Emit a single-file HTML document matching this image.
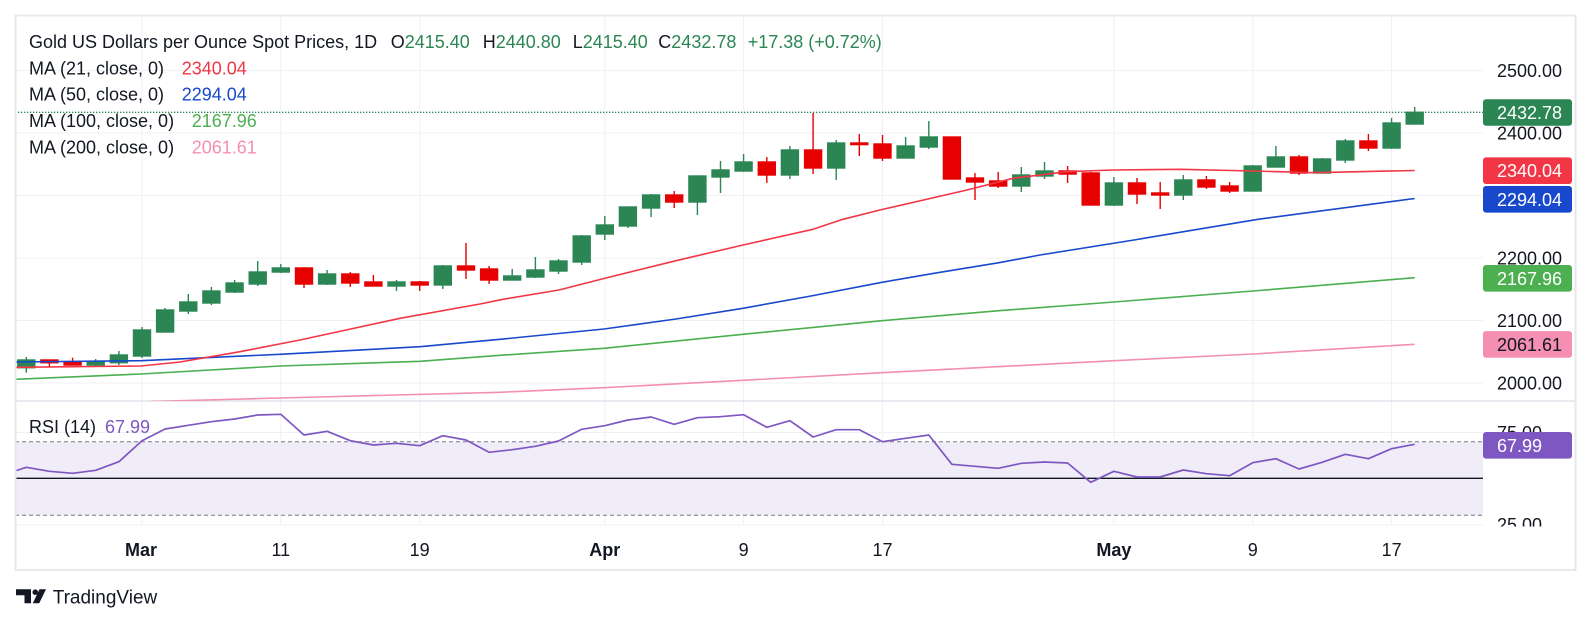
<!DOCTYPE html>
<html><head><meta charset="utf-8"><style>
html,body{margin:0;padding:0;background:#fff;}
svg{display:block;font-family:"Liberation Sans",Arial,sans-serif;}
</style></head><body>
<svg width="1592" height="625" viewBox="0 0 1592 625" xmlns="http://www.w3.org/2000/svg">
<defs>
<clipPath id="mainclip"><rect x="15" y="15" width="1468" height="386"/></clipPath>
<clipPath id="rsiclip"><rect x="15" y="402" width="1561" height="124.5"/></clipPath>
</defs>
<rect width="1592" height="625" fill="#fff"/>
<!-- grid -->
<g stroke="#f0f1f4" stroke-width="1">
<line x1="15" y1="70.5" x2="1483" y2="70.5"/>
<line x1="15" y1="133" x2="1483" y2="133"/>
<line x1="15" y1="195.5" x2="1483" y2="195.5"/>
<line x1="15" y1="258" x2="1483" y2="258"/>
<line x1="15" y1="320.5" x2="1483" y2="320.5"/>
<line x1="15" y1="383" x2="1483" y2="383"/>
<line x1="15" y1="432.5" x2="1483" y2="432.5"/>
<line x1="15" y1="525" x2="1483" y2="525"/>
<line x1="142" y1="15" x2="142" y2="526"/>
<line x1="280.8" y1="15" x2="280.8" y2="526"/>
<line x1="419.7" y1="15" x2="419.7" y2="526"/>
<line x1="604.8" y1="15" x2="604.8" y2="526"/>
<line x1="743.6" y1="15" x2="743.6" y2="526"/>
<line x1="882.5" y1="15" x2="882.5" y2="526"/>
<line x1="1113.9" y1="15" x2="1113.9" y2="526"/>
<line x1="1252.7" y1="15" x2="1252.7" y2="526"/>
<line x1="1391.6" y1="15" x2="1391.6" y2="526"/>
</g>
<!-- RSI band -->
<rect x="15" y="441.7" width="1468" height="73.6" fill="#f0ecf8"/>
<g stroke="#787b86" stroke-width="1" stroke-dasharray="4 3">
<line x1="15" y1="441.7" x2="1483" y2="441.7"/>
<line x1="15" y1="515.3" x2="1483" y2="515.3"/>
</g>
<line x1="15" y1="478.3" x2="1483" y2="478.3" stroke="#131722" stroke-width="1.4"/>
<!-- pane separator -->
<line x1="15" y1="401" x2="1576" y2="401" stroke="#e0e3eb" stroke-width="1.5"/>
<!-- current price dotted line -->
<line x1="15" y1="112.3" x2="1483" y2="112.3" stroke="#2b8654" stroke-width="1.3" stroke-dasharray="1.3 1.7"/>

<!-- candles green -->
<g clip-path="url(#mainclip)">
<g stroke="#2b8654" stroke-width="1.4" fill="#2b8654">
<line x1="26.3" y1="357" x2="26.3" y2="372.7"/><rect x="17.8" y="360" width="17" height="7.7"/>
<line x1="95.7" y1="359" x2="95.7" y2="367"/><rect x="87.2" y="362" width="17" height="3"/>
<line x1="118.9" y1="351" x2="118.9" y2="365"/><rect x="110.4" y="355" width="17" height="7.7"/>
<line x1="142" y1="327" x2="142" y2="358"/><rect x="133.5" y="330" width="17" height="26"/>
<line x1="165.1" y1="308" x2="165.1" y2="332.7"/><rect x="156.6" y="310" width="17" height="22"/>
<line x1="188.3" y1="294" x2="188.3" y2="314"/><rect x="179.8" y="302" width="17" height="9"/>
<line x1="211.4" y1="287" x2="211.4" y2="305"/><rect x="202.9" y="291" width="17" height="12"/>
<line x1="234.6" y1="280" x2="234.6" y2="293"/><rect x="226.1" y="283" width="17" height="9"/>
<line x1="257.7" y1="261" x2="257.7" y2="286"/><rect x="249.2" y="272" width="17" height="12"/>
<line x1="280.8" y1="264" x2="280.8" y2="273"/><rect x="272.3" y="268" width="17" height="4"/>
<line x1="327.1" y1="270" x2="327.1" y2="285"/><rect x="318.6" y="274" width="17" height="10"/>
<line x1="396.5" y1="280" x2="396.5" y2="291"/><rect x="388" y="282" width="17" height="4"/>
<line x1="442.8" y1="265" x2="442.8" y2="289"/><rect x="434.3" y="266" width="17" height="19"/>
<line x1="512.2" y1="269" x2="512.2" y2="280"/><rect x="503.7" y="276" width="17" height="4"/>
<line x1="535.4" y1="257" x2="535.4" y2="278"/><rect x="526.9" y="270" width="17" height="7"/>
<line x1="558.5" y1="259" x2="558.5" y2="274"/><rect x="550" y="261" width="17" height="10"/>
<line x1="581.7" y1="235" x2="581.7" y2="265"/><rect x="573.2" y="236" width="17" height="26"/>
<line x1="604.8" y1="216" x2="604.8" y2="240"/><rect x="596.3" y="225" width="17" height="9"/>
<line x1="627.9" y1="207" x2="627.9" y2="228"/><rect x="619.4" y="207" width="17" height="19"/>
<line x1="651.1" y1="194" x2="651.1" y2="217"/><rect x="642.6" y="195" width="17" height="13"/>
<line x1="697.4" y1="176" x2="697.4" y2="215"/><rect x="688.9" y="176" width="17" height="26"/>
<line x1="720.5" y1="161" x2="720.5" y2="193"/><rect x="712" y="170" width="17" height="7"/>
<line x1="743.6" y1="154" x2="743.6" y2="172"/><rect x="735.1" y="162" width="17" height="9"/>
<line x1="789.9" y1="146" x2="789.9" y2="179"/><rect x="781.4" y="150" width="17" height="25"/>
<line x1="836.2" y1="140" x2="836.2" y2="180"/><rect x="827.7" y="143" width="17" height="25"/>
<line x1="905.6" y1="137" x2="905.6" y2="158"/><rect x="897.1" y="146" width="17" height="12"/>
<line x1="928.8" y1="121" x2="928.8" y2="149"/><rect x="920.3" y="137" width="17" height="10"/>
<line x1="1021.3" y1="167" x2="1021.3" y2="192"/><rect x="1012.8" y="175" width="17" height="11"/>
<line x1="1044.5" y1="162" x2="1044.5" y2="179"/><rect x="1036" y="171" width="17" height="5"/>
<line x1="1113.9" y1="177" x2="1113.9" y2="206"/><rect x="1105.4" y="183" width="17" height="22"/>
<line x1="1183.3" y1="175" x2="1183.3" y2="200"/><rect x="1174.8" y="180" width="17" height="15"/>
<line x1="1252.7" y1="165" x2="1252.7" y2="191"/><rect x="1244.2" y="166" width="17" height="25"/>
<line x1="1275.9" y1="146" x2="1275.9" y2="167"/><rect x="1267.4" y="157" width="17" height="10"/>
<line x1="1322.1" y1="158" x2="1322.1" y2="173"/><rect x="1313.6" y="159" width="17" height="14"/>
<line x1="1345.3" y1="139" x2="1345.3" y2="163"/><rect x="1336.8" y="141" width="17" height="19"/>
<line x1="1391.6" y1="118" x2="1391.6" y2="149"/><rect x="1383.1" y="123" width="17" height="25"/>
<line x1="1414.7" y1="107" x2="1414.7" y2="124"/><rect x="1406.2" y="112.3" width="17" height="11.7"/>
</g>
<!-- candles red -->
<g stroke="#e60000" stroke-width="1.4" fill="#e60000">
<line x1="49.4" y1="360" x2="49.4" y2="367"/><rect x="40.9" y="360" width="17" height="2.7"/>
<line x1="72.6" y1="357.7" x2="72.6" y2="365"/><rect x="64.1" y="362" width="17" height="3"/>
<line x1="304" y1="267" x2="304" y2="288"/><rect x="295.5" y="268" width="17" height="16"/>
<line x1="350.3" y1="272" x2="350.3" y2="287"/><rect x="341.8" y="274" width="17" height="9"/>
<line x1="373.4" y1="275" x2="373.4" y2="286"/><rect x="364.9" y="282" width="17" height="4"/>
<line x1="419.7" y1="281" x2="419.7" y2="291"/><rect x="411.2" y="282" width="17" height="3"/>
<line x1="466" y1="243" x2="466" y2="279"/><rect x="457.5" y="266" width="17" height="4"/>
<line x1="489.1" y1="266" x2="489.1" y2="284"/><rect x="480.6" y="269" width="17" height="11"/>
<line x1="674.2" y1="191" x2="674.2" y2="208"/><rect x="665.7" y="195" width="17" height="7"/>
<line x1="766.8" y1="157" x2="766.8" y2="183"/><rect x="758.3" y="162" width="17" height="13"/>
<line x1="813.1" y1="113" x2="813.1" y2="174"/><rect x="804.6" y="150" width="17" height="18"/>
<line x1="859.3" y1="134" x2="859.3" y2="156"/><rect x="850.8" y="143" width="17" height="1.6"/>
<line x1="882.5" y1="135" x2="882.5" y2="161"/><rect x="874" y="144" width="17" height="14"/>
<line x1="951.9" y1="137" x2="951.9" y2="179"/><rect x="943.4" y="137" width="17" height="42"/>
<line x1="975" y1="173" x2="975" y2="200"/><rect x="966.5" y="178" width="17" height="4"/>
<line x1="998.2" y1="172" x2="998.2" y2="188"/><rect x="989.7" y="181" width="17" height="5"/>
<line x1="1067.6" y1="166" x2="1067.6" y2="183"/><rect x="1059.1" y="171" width="17" height="3"/>
<line x1="1090.7" y1="172" x2="1090.7" y2="205"/><rect x="1082.2" y="173" width="17" height="32"/>
<line x1="1137" y1="178" x2="1137" y2="204"/><rect x="1128.5" y="183" width="17" height="11"/>
<line x1="1160.2" y1="182" x2="1160.2" y2="209"/><rect x="1151.7" y="193" width="17" height="2"/>
<line x1="1206.4" y1="176" x2="1206.4" y2="189"/><rect x="1197.9" y="180" width="17" height="7"/>
<line x1="1229.6" y1="182" x2="1229.6" y2="193"/><rect x="1221.1" y="186" width="17" height="5"/>
<line x1="1299" y1="155" x2="1299" y2="175"/><rect x="1290.5" y="157" width="17" height="16"/>
<line x1="1368.4" y1="134" x2="1368.4" y2="151"/><rect x="1359.9" y="141" width="17" height="7"/>
</g>
<!-- moving averages -->
<g fill="none" stroke-width="1.6" stroke-linejoin="round">
<polyline stroke="#f48fb1" points="150,401.5 280,398 500,392.3 604,387.7 743,380.3 882,372.7 1114,360.7 1253,354 1414.7,344.3"/>
<polyline stroke="#4caf50" points="15,379.3 141,374 280,366 420,361.3 500,355.3 604,348.3 743,334.3 882,320.7 999,310.7 1114,302 1253,291 1414.7,277.7"/>
<polyline stroke="#1848cc" points="15,362 141,360.7 280,354.3 420,346.7 500,339.3 604,329 676,319 743,308.3 811,296 882,282.3 934,273.3 999,262.7 1040,255 1134,240 1258,219.3 1414.7,198.5"/>
<polyline stroke="#f23645" points="15,367.3 141,366 180,362 240,351.7 300,340 400,318.3 480,304 503,299.3 559,290 604,278.5 676,260.7 743,245 813,229.3 843,219.3 882,209.5 967,190 1013,178.3 1067,171.7 1113,170 1180,169.3 1253,171 1313,172.7 1414.7,170.5"/>
</g>
</g>
<!-- RSI line -->
<polyline fill="none" stroke="#7e57c2" stroke-width="1.7" stroke-linejoin="round" points="15,471 26.3,467.3 49.4,471.3 72.6,473.3 95.7,470.3 118.9,461.7 142,440.7 165.1,429 188.3,425.3 211.4,421.7 234.6,419 257.7,415 280.8,414.3 304,435 327.1,431.3 350.3,440.7 373.4,445 396.5,443.3 419.7,445.7 442.8,435.7 466,440 489.1,452.3 512.2,449.7 535.4,446.3 558.5,441 581.7,429.3 604.8,425.7 627.9,420 651.1,417 674.2,424.3 697.4,417.7 720.5,416.7 743.6,414.7 766.8,427.3 789.9,420.7 813.1,437 836.2,429.7 859.3,429.7 882.5,441.7 905.6,438.3 928.8,435 951.9,464.3 975,466.3 998.2,468.3 1021.3,463.3 1044.5,462 1067.6,463 1090.7,482.3 1113.9,471.3 1137,477 1160.2,477 1183.3,470 1206.4,473.7 1229.6,475.7 1252.7,462.7 1275.9,458.7 1299,469 1322.1,462.3 1345.3,454.3 1368.4,458.7 1391.6,448.7 1414.7,444.3"/>

<!-- frame -->
<rect x="15.5" y="15.5" width="1560" height="554.5" fill="none" stroke="#e6e8ee" stroke-width="2"/>

<!-- legend -->
<g font-size="18" fill="#131722">
<text x="29" y="48">Gold US Dollars per Ounce Spot Prices, 1D</text>
<text x="390.7" y="48">O<tspan fill="#2b8654">2415.40</tspan></text>
<text x="482.7" y="48">H<tspan fill="#2b8654">2440.80</tspan></text>
<text x="572.7" y="48">L<tspan fill="#2b8654">2415.40</tspan></text>
<text x="658.3" y="48">C<tspan fill="#2b8654">2432.78</tspan></text>
<text x="747.7" y="48" fill="#2b8654">+17.38 (+0.72%)</text>
<text x="29" y="74.3">MA (21, close, 0)</text><text x="181.7" y="74.3" fill="#f23645">2340.04</text>
<text x="29" y="100.7">MA (50, close, 0)</text><text x="181.7" y="100.7" fill="#1848cc">2294.04</text>
<text x="29" y="127">MA (100, close, 0)</text><text x="191.7" y="127" fill="#4caf50">2167.96</text>
<text x="29" y="153.4">MA (200, close, 0)</text><text x="191.7" y="153.4" fill="#f48fb1">2061.61</text>
<text x="29" y="433">RSI (14)</text><text x="105" y="433" fill="#7e57c2">67.99</text>
</g>

<!-- price axis -->
<g font-size="18" fill="#131722">
<text x="1497" y="77">2500.00</text>
<text x="1497" y="139.5">2400.00</text>
<text x="1497" y="202">2300.00</text>
<text x="1497" y="264.5">2200.00</text>
<text x="1497" y="327">2100.00</text>
<text x="1497" y="389.5">2000.00</text>
<g clip-path="url(#rsiclip)">
<text x="1497" y="439">75.00</text>
<text x="1497" y="531">25.00</text>
</g>
</g>
<g>
<rect x="1483" y="99.3" width="89" height="26.4" rx="3" fill="#2b8654"/>
<rect x="1483" y="157.4" width="89" height="26.6" rx="3" fill="#f23645"/>
<rect x="1483" y="186" width="89" height="26.6" rx="3" fill="#1848cc"/>
<rect x="1483" y="265" width="89" height="26.6" rx="3" fill="#4caf50"/>
<rect x="1483" y="331.1" width="89" height="26.6" rx="3" fill="#f48fb1"/>
<rect x="1483" y="432" width="89" height="26.6" rx="3" fill="#7e57c2"/>
</g>
<g font-size="18" fill="#ffffff">
<text x="1497" y="119">2432.78</text>
<text x="1497" y="177.2">2340.04</text>
<text x="1497" y="205.8">2294.04</text>
<text x="1497" y="284.8">2167.96</text>
<text x="1497" y="351" fill="#131722">2061.61</text>
<text x="1497" y="451.8">67.99</text>
</g>

<!-- time axis -->
<g font-size="18" fill="#131722" text-anchor="middle">
<text x="141" y="556" font-weight="bold">Mar</text>
<text x="280.8" y="556">11</text>
<text x="419.7" y="556">19</text>
<text x="604.8" y="556" font-weight="bold">Apr</text>
<text x="743.6" y="556">9</text>
<text x="882.5" y="556">17</text>
<text x="1113.9" y="556" font-weight="bold">May</text>
<text x="1252.7" y="556">9</text>
<text x="1391.6" y="556">17</text>
</g>

<!-- TradingView logo -->
<g fill="#131722">
<polygon points="16,589.3 31,589.3 31,603.3 24.5,603.3 24.5,595.3 16,595.3"/>
<circle cx="35.3" cy="592.2" r="2.8"/>
<polygon points="39.5,589.3 46,589.3 39.2,603.3 32.8,603.3"/>
<text x="52.7" y="603.3" font-size="19">TradingView</text>
</g>
</svg>
</body></html>
